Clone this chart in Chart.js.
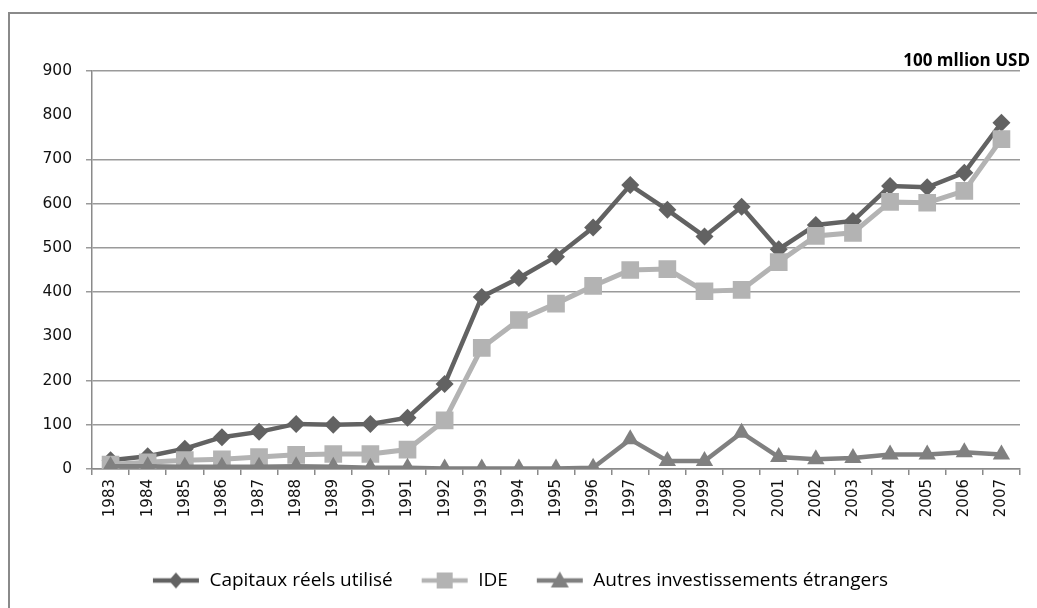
<!DOCTYPE html>
<html>
<head>
    <title>Capitaux étrangers</title>
    <script src="https://cdn.jsdelivr.net/npm/chart.js"></script>
    <style>
        body { margin: 0; background: #fff; overflow: hidden; }
        #frame { position: absolute; left: 8px; top: 12px; width: 1200px; height: 800px; border: 2px solid #8a8a8a; }
        #wrap { position: absolute; left: 0; top: 0; width: 1037px; height: 608px; }
    </style>
</head>
<body>
    <div id="frame"></div>
    <div id="wrap"><canvas id="myChart"></canvas></div>

    <script>
        var years = ['1983', '1984', '1985', '1986', '1987', '1988', '1989', '1990', '1991', '1992', '1993', '1994', '1995',
                     '1996', '1997', '1998', '1999', '2000', '2001', '2002', '2003', '2004', '2005', '2006', '2007'];
        var capitaux = [20, 29, 46, 72, 84, 102, 100, 102, 116, 192, 389, 432, 480, 546, 642, 586, 526, 593, 497, 552, 561, 640, 637, 670, 783];
        var ide = [10, 15, 20, 22, 27, 32, 34, 34, 44, 110, 274, 337, 374, 414, 450, 452, 402, 405, 468, 527, 534, 604, 602, 629, 746];
        var autres = [6, 6, 5, 5, 5, 6, 5, 3, 3, 1, 1, 1, 1, 3, 67, 18, 18, 82, 27, 22, 25, 33, 33, 38, 33];
        var yTicks = [0, 100, 200, 300, 400, 500, 600, 700, 800, 900];
        var hiddenGrid = [300, 800]; // these two lines don't show in the source picture
        var unitLabel = '100 mllion USD';

        var dark = '#626262', light = '#b3b3b3', mid = '#808080';

        // legend swatch: a short line with the marker on it
        function swatch(color, style) {
            var c = document.createElement('canvas');
            c.width = 48; c.height = 20;
            var g = c.getContext('2d');
            g.strokeStyle = color; g.lineWidth = 4.5;
            g.beginPath(); g.moveTo(1, 10); g.lineTo(47, 10); g.stroke();
            g.fillStyle = color;
            g.beginPath();
            if (style === 'diamond') {
                g.moveTo(24, 2); g.lineTo(31, 10); g.lineTo(24, 18); g.lineTo(17, 10);
            } else if (style === 'square') {
                g.rect(16, 2, 16, 16);
            } else {
                g.moveTo(24, 1); g.lineTo(33, 17); g.lineTo(15, 17);
            }
            g.closePath(); g.fill();
            return c;
        }
        var swatches = [swatch(dark, 'diamond'), swatch(light, 'square'), swatch(mid, 'triangle')];

        var ctx = document.getElementById('myChart').getContext('2d');
        var myChart = new Chart(ctx, {
            type: 'line',
            data: {
                labels: years,
                datasets: [
                    { label: 'Capitaux réels utilisé', data: capitaux, borderColor: dark, backgroundColor: dark,
                      borderWidth: 4.5, pointStyle: 'rectRot', pointRadius: 9, pointBorderWidth: 0, order: 2 },
                    { label: 'IDE', data: ide, borderColor: light, backgroundColor: light,
                      borderWidth: 5, pointStyle: 'rect', pointRadius: 12.5, pointBorderWidth: 0, order: 1 },
                    { label: 'Autres investissements étrangers', data: autres, borderColor: mid, backgroundColor: mid,
                      borderWidth: 4.5, pointStyle: 'triangle', pointRadius: 10, pointBorderWidth: 0, order: 0 }
                ]
            },
            options: {
                responsive: true,
                maintainAspectRatio: false,
                animation: false,
                layout: { padding: { left: 10, right: 7, top: 13, bottom: 8 } },
                plugins: {
                    tooltip: { enabled: false },
                    title: {
                        display: true, text: unitLabel, align: 'end', color: '#000',
                        font: { family: "'Liberation Sans Narrow', 'Open Sans', sans-serif", size: 17, weight: 'bold', lineHeight: 1 },
                        padding: { top: 40, bottom: 1 }
                    },
                    legend: {
                        position: 'bottom',
                        labels: {
                            usePointStyle: true,
                            pointStyleWidth: 48,
                            padding: 28,
                            color: '#000',
                            font: { family: "'Liberation Sans Narrow', 'Open Sans', sans-serif", size: 19 },
                            generateLabels: function (chart) {
                                return chart.data.datasets.map(function (ds, i) {
                                    return { text: ds.label, pointStyle: swatches[i], fillStyle: ds.borderColor,
                                             strokeStyle: ds.borderColor, lineWidth: 0, datasetIndex: i, hidden: false };
                                });
                            }
                        }
                    }
                },
                scales: {
                    x: {
                        offset: true,
                        grid: { offset: true, drawOnChartArea: false, drawTicks: true, tickLength: 6, color: '#8a8a8a', lineWidth: 1.5 },
                        border: { color: '#8a8a8a', width: 1.5 },
                        ticks: { minRotation: 90, maxRotation: 90, autoSkip: false, padding: 4, color: '#111',
                                 font: { family: "'DejaVu Sans', sans-serif", size: 15 } },
                        afterFit: function (s) {
                            var lh = s.chart.legend ? s.chart.legend.height : 40;
                            s.height = s.chart.height - 469 - 8 - lh;
                        }
                    },
                    y: {
                        min: yTicks[0], max: yTicks[yTicks.length - 1],
                        ticks: { stepSize: yTicks[1] - yTicks[0], padding: 14, color: '#111',
                                 font: { family: "'DejaVu Sans', sans-serif", size: 15.5 } },
                        grid: {
                            tickLength: 6,
                            lineWidth: 1.5,
                            color: function (c) {
                                if (!c.tick) return '#9a9a9a';
                                return hiddenGrid.indexOf(c.tick.value) >= 0 ? '#ffffff' : '#9a9a9a';
                            }
                        },
                        border: { color: '#8a8a8a', width: 1.5 },
                        afterFit: function (s) { s.width = 82; }
                    },
                    yR: {
                        position: 'right', display: true,
                        grid: { display: false }, border: { display: false }, ticks: { display: false },
                        afterFit: function (s) { s.width = 10; }
                    }
                }
            }
        });
    </script>
</body>
</html>
